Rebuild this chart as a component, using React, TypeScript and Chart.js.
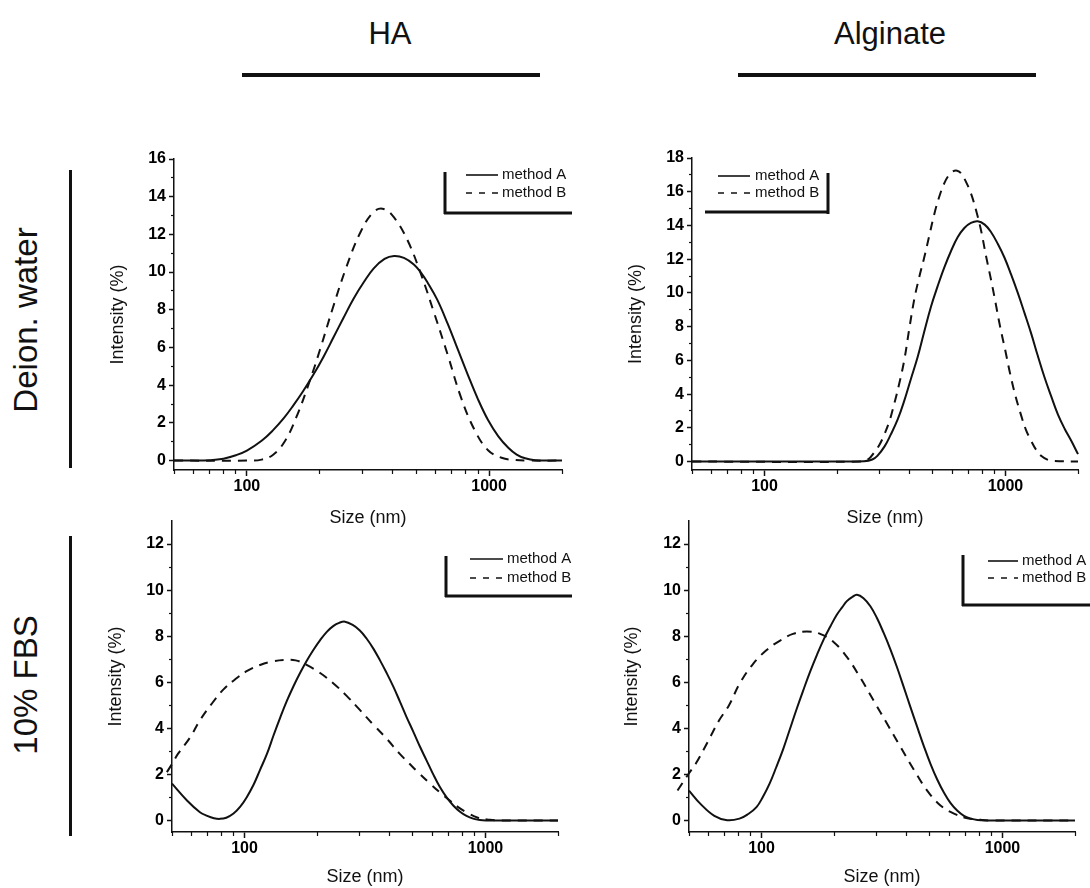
import React, { useEffect, useRef } from "react";
import { Chart, registerables } from "chart.js";

Chart.register(...registerables);

const FONT = "'Liberation Sans', Arial, Helvetica, sans-serif";
Chart.defaults.font.family = FONT;
Chart.defaults.color = "#000";

// ---------------- Data (size in nm, intensity in %) ----------------
// HA, deionized water
const haWaterSizeA = [50, 60, 70, 80, 90, 100, 115, 128, 142, 155, 170, 188, 207, 227, 250, 276, 305, 334, 370, 405, 445, 489, 525, 557, 610, 675, 740, 817, 900, 990, 1090, 1200, 1300, 1409, 1550, 2000];
const haWaterIntA = [0, 0, 0.02, 0.1, 0.28, 0.53, 1.05, 1.6, 2.25, 2.9, 3.65, 4.55, 5.5, 6.5, 7.55, 8.6, 9.5, 10.2, 10.7, 10.85, 10.75, 10.4, 9.95, 9.45, 8.55, 7.25, 5.95, 4.55, 3.25, 2.15, 1.3, 0.68, 0.32, 0.12, 0.02, 0];
const haWaterSizeB = [50, 100, 115, 128, 143, 160, 182, 200, 227, 258, 294, 334, 367, 405, 460, 523, 594, 675, 768, 873, 990, 1126, 1280, 1450, 2000];
const haWaterIntB = [0, 0, 0.05, 0.3, 1.0, 2.3, 4.25, 5.85, 8.15, 10.3, 12.1, 13.2, 13.35, 12.9, 11.7, 9.9, 7.8, 5.6, 3.3, 1.6, 0.55, 0.15, 0.03, 0, 0];

// Alginate, deionized water
const algWaterSizeA = [50, 200, 259, 280, 294, 315, 334, 357, 380, 405, 432, 460, 491, 523, 557, 595, 633, 675, 719, 767, 820, 872, 930, 990, 1055, 1125, 1200, 1278, 1360, 1452, 1550, 1650, 1760, 1875, 2000];
const algWaterIntA = [0, 0, 0.02, 0.12, 0.34, 0.9, 1.6, 2.5, 3.6, 4.9, 6.2, 7.7, 9.2, 10.4, 11.5, 12.5, 13.3, 13.85, 14.15, 14.25, 14.05, 13.6, 12.9, 12.1, 11.1, 10.0, 8.8, 7.6, 6.3, 5.0, 3.85, 2.8, 1.95, 1.23, 0.44];
const algWaterSizeB = [50, 250, 270, 285, 300, 314, 330, 345, 362, 380, 398, 418, 438, 460, 483, 507, 531, 557, 580, 604, 630, 654, 685, 719, 755, 792, 830, 872, 910, 950, 998, 1046, 1100, 1158, 1215, 1278, 1340, 1405, 1500, 1599, 2000];
const algWaterIntB = [0, 0, 0.15, 0.54, 1.0, 1.6, 2.4, 3.4, 4.6, 6.0, 7.8, 9.6, 10.9, 12.1, 13.4, 14.7, 15.7, 16.5, 16.95, 17.2, 17.25, 17.1, 16.6, 15.9, 14.9, 13.7, 12.2, 10.75, 9.4, 8.0, 6.6, 5.2, 3.9, 2.8, 1.9, 1.23, 0.7, 0.34, 0.1, 0.04, 0];

// HA, 10% FBS
const haFbsSizeA = [50, 57.7, 65.3, 70, 74.7, 79, 84, 90, 96, 102, 109, 116, 124, 132, 141, 150, 160, 170, 181, 193, 206, 220, 234, 247, 261, 280, 301, 321, 343, 365, 389, 415, 442, 470, 502, 535, 570, 607, 647, 690, 735, 784, 834, 889, 948, 1010, 1100, 2000];
const haFbsIntA = [1.6, 0.87, 0.36, 0.2, 0.1, 0.07, 0.12, 0.3, 0.6, 1.0, 1.55, 2.2, 2.9, 3.7, 4.5, 5.2, 5.85, 6.4, 6.92, 7.4, 7.83, 8.2, 8.45, 8.58, 8.63, 8.5, 8.25, 7.9, 7.45, 6.95, 6.4, 5.8, 5.15, 4.5, 3.85, 3.2, 2.6, 2.0, 1.45, 1.0, 0.65, 0.38, 0.2, 0.08, 0.02, 0, 0, 0];
const haFbsSizeB = [47.6, 50, 53, 59.4, 65.3, 73.5, 82, 92, 103, 116, 130, 146, 163, 181, 206, 234, 266, 301, 343, 389, 440, 483, 530, 589, 650, 711, 770, 834, 930, 1043, 1150, 2000];
const haFbsIntB = [2.1, 2.45, 2.9, 3.6, 4.35, 5.1, 5.7, 6.15, 6.5, 6.75, 6.9, 6.97, 6.95, 6.75, 6.4, 5.95, 5.4, 4.8, 4.15, 3.55, 2.9, 2.47, 2.05, 1.6, 1.2, 0.87, 0.58, 0.36, 0.12, 0.03, 0, 0];

// Alginate, 10% FBS
const algFbsSizeA = [50, 55.8, 63.7, 72, 81, 88, 95.3, 101, 108, 115, 123, 131, 140, 149, 159, 170, 181, 193, 205, 216, 226, 238, 249, 265, 283, 301, 321, 342, 365, 389, 415, 443, 472, 503, 536, 572, 609, 650, 692, 740, 787, 850, 2000];
const algFbsIntA = [1.3, 0.72, 0.2, 0.01, 0.08, 0.28, 0.58, 1.0, 1.6, 2.3, 3.1, 3.95, 4.85, 5.65, 6.45, 7.2, 7.85, 8.42, 8.92, 9.25, 9.52, 9.7, 9.8, 9.65, 9.3, 8.8, 8.15, 7.45, 6.65, 5.8, 4.92, 4.05, 3.22, 2.45, 1.78, 1.2, 0.75, 0.42, 0.2, 0.08, 0.02, 0, 0];
const algFbsSizeB = [44.8, 50, 53.3, 59.7, 66.7, 73.3, 81.2, 92.3, 105, 119, 135, 154, 175, 199, 226, 257, 292, 332, 377, 429, 487, 553, 629, 715, 812, 900, 2000];
const algFbsIntB = [1.3, 2.05, 2.46, 3.4, 4.35, 5.0, 5.95, 6.8, 7.4, 7.8, 8.1, 8.2, 8.1, 7.75, 7.1, 6.2, 5.2, 4.2, 3.2, 2.2, 1.3, 0.65, 0.3, 0.1, 0.03, 0, 0];

// ---------------- Axes / labels ----------------
const xMin = 50;
const xMax = 2000;
const yMin = -0.5;
const xMajorTicks = [100, 1000];
const xMinorTicks = [50, 60, 70, 80, 90, 200, 300, 400, 500, 600, 700, 800, 900, 2000];
const yMajorHaWater = [0, 2, 4, 6, 8, 10, 12, 14, 16];
const yMinorHaWater = [1, 3, 5, 7, 9, 11, 13, 15];
const yMajorAlgWater = [0, 2, 4, 6, 8, 10, 12, 14, 16, 18];
const yMinorAlgWater = [1, 3, 5, 7, 9, 11, 13, 15, 17];
const yMajorFbs = [0, 2, 4, 6, 8, 10, 12];
const yMinorFbs = [1, 3, 5, 7, 9, 11];
const yMaxHaWater = 16;
const yMaxAlgWater = 18;
const yMaxFbs = 13;

const seriesLabels = ["method A", "method B"];
const columnTitles = ["HA", "Alginate"];
const rowTitles = ["Deion. water", "10% FBS"];
const xAxisTitle = "Size (nm)";
const yAxisTitle = "Intensity (%)";

const zip = (xs: number[], ys: number[]) => xs.map((x, i) => ({ x, y: ys[i] }));

type LegendGeom = {
  vx: number; vy0: number; vy1: number;
  hy: number; hx0: number; hx1: number;
  sx0: number; sx1: number; tx: number; rows: number[];
};

type PanelDef = {
  cx: number; cy: number; cw: number; ch: number;
  padTop: number; padRight: number; wy: number; hx: number;
  xTitlePad: number; yTitlePad: number;
  yMax: number; yMajor: number[]; yMinor: number[];
  sizeA: number[]; intA: number[]; sizeB: number[]; intB: number[];
  legend: LegendGeom;
};

const panels: PanelDef[] = [
  {
    cx: 90, cy: 140, cw: 490, ch: 400, padTop: 19, padRight: 18, wy: 84, hx: 70,
    xTitlePad: 11, yTitlePad: 17,
    yMax: yMaxHaWater, yMajor: yMajorHaWater, yMinor: yMinorHaWater,
    sizeA: haWaterSizeA, intA: haWaterIntA, sizeB: haWaterSizeB, intB: haWaterIntB,
    legend: { vx: 445, vy0: 172, vy1: 214, hy: 213, hx0: 444, hx1: 572, sx0: 466, sx1: 498, tx: 502, rows: [175, 193] },
  },
  {
    cx: 600, cy: 140, cw: 490, ch: 400, padTop: 18, padRight: 12, wy: 92, hx: 70,
    xTitlePad: 11, yTitlePad: 25,
    yMax: yMaxAlgWater, yMajor: yMajorAlgWater, yMinor: yMinorAlgWater,
    sizeA: algWaterSizeA, intA: algWaterIntA, sizeB: algWaterSizeB, intB: algWaterIntB,
    legend: { vx: 828, vy0: 173, vy1: 214, hy: 212, hx0: 705, hx1: 829, sx0: 718, sx1: 750, tx: 755, rows: [176, 193] },
  },
  {
    cx: 90, cy: 500, cw: 490, ch: 388, padTop: 21, padRight: 22, wy: 82, hx: 56,
    xTitlePad: 0, yTitlePad: 15,
    yMax: yMaxFbs, yMajor: yMajorFbs, yMinor: yMinorFbs,
    sizeA: haFbsSizeA, intA: haFbsIntA, sizeB: haFbsSizeB, intB: haFbsIntB,
    legend: { vx: 446, vy0: 556, vy1: 597, hy: 596, hx0: 445, hx1: 572, sx0: 470, sx1: 503, tx: 507, rows: [559, 578] },
  },
  {
    cx: 600, cy: 500, cw: 490, ch: 388, padTop: 21, padRight: 15, wy: 89, hx: 56,
    xTitlePad: 0, yTitlePad: 21,
    yMax: yMaxFbs, yMajor: yMajorFbs, yMinor: yMinorFbs,
    sizeA: algFbsSizeA, intA: algFbsIntA, sizeB: algFbsSizeB, intB: algFbsIntB,
    legend: { vx: 963, vy0: 555, vy1: 606, hy: 605, hx0: 962, hx1: 1090, sx0: 988, sx1: 1018, tx: 1022, rows: [561, 578] },
  },
];

const INK = "#111";

function Panel({ p }: { p: PanelDef }) {
  const ref = useRef<HTMLCanvasElement | null>(null);
  useEffect(() => {
    const canvas = ref.current;
    if (!canvas) return;
    const L = p.legend;
    const legendPlugin = {
      id: "bracketLegend",
      afterDraw(chart: any) {
        const ctx = chart.ctx as CanvasRenderingContext2D;
        const ox = p.cx;
        const oy = p.cy;
        ctx.save();
        ctx.strokeStyle = INK;
        ctx.lineWidth = 3;
        ctx.setLineDash([]);
        ctx.beginPath();
        ctx.moveTo(L.vx - ox, L.vy0 - oy);
        ctx.lineTo(L.vx - ox, L.vy1 - oy);
        ctx.moveTo(L.hx0 - ox, L.hy - oy);
        ctx.lineTo(L.hx1 - ox, L.hy - oy);
        ctx.stroke();
        chart.data.datasets.forEach((ds: any, i: number) => {
          const y = L.rows[i] - oy;
          ctx.lineWidth = 1.6;
          ctx.setLineDash(i === 1 ? [6, 7] : []);
          ctx.beginPath();
          ctx.moveTo(L.sx0 - ox, y);
          ctx.lineTo(L.sx1 - ox, y);
          ctx.stroke();
          ctx.setLineDash([]);
          ctx.fillStyle = INK;
          ctx.font = `15px ${FONT}`;
          ctx.textBaseline = "middle";
          ctx.textAlign = "left";
          ctx.fillText(ds.label, L.tx - ox, y);
        });
        ctx.restore();
      },
    };

    const tickFont = { size: 16, weight: "bold" as const, family: FONT };
    const chart = new Chart(canvas, {
      type: "line",
      data: {
        datasets: [
          {
            label: seriesLabels[0],
            data: zip(p.sizeA, p.intA),
            borderColor: INK,
            borderWidth: 2,
            pointRadius: 0,
            fill: false,
            tension: 0.4,
            clip: false as any,
          },
          {
            label: seriesLabels[1],
            data: zip(p.sizeB, p.intB),
            borderColor: INK,
            borderWidth: 2,
            borderDash: [9, 7],
            pointRadius: 0,
            fill: false,
            tension: 0.4,
            clip: false as any,
          },
        ],
      },
      options: {
        responsive: false,
        maintainAspectRatio: false,
        animation: false,
        events: [],
        layout: { padding: { left: 0, top: p.padTop, right: p.padRight, bottom: 0 } },
        plugins: { legend: { display: false }, tooltip: { enabled: false } },
        scales: {
          x: {
            type: "logarithmic",
            axis: "x",
            position: "bottom",
            weight: 1,
            min: xMin,
            max: xMax,
            afterBuildTicks: (s: any) => {
              s.ticks = xMajorTicks.map((v) => ({ value: v, major: true }));
            },
            afterFit: (s: any) => {
              s.height = p.hx;
            },
            ticks: {
              callback: (v: any) => String(v),
              font: tickFont,
              color: "#000",
              autoSkip: false,
              maxRotation: 0,
              padding: 1,
            },
            grid: { drawOnChartArea: false, drawTicks: true, tickLength: 6, tickWidth: 1.5, tickColor: INK },
            border: { display: true, color: INK, width: 1.5 },
            title: {
              display: true,
              text: xAxisTitle,
              color: "#111",
              font: { size: 18, family: FONT },
              padding: { top: 0, bottom: p.xTitlePad },
            },
          },
          xMinor: {
            type: "logarithmic",
            axis: "x",
            position: "bottom",
            weight: 0,
            min: xMin,
            max: xMax,
            afterBuildTicks: (s: any) => {
              s.ticks = xMinorTicks.map((v) => ({ value: v }));
            },
            afterFit: (s: any) => {
              s.height = 0;
            },
            ticks: { callback: () => "", autoSkip: false, maxRotation: 0, padding: 0 },
            grid: { drawOnChartArea: false, drawTicks: true, tickLength: 4, tickWidth: 1.2, tickColor: INK },
            border: { display: false },
          },
          y: {
            type: "linear",
            axis: "y",
            position: "left",
            weight: 1,
            min: yMin,
            max: p.yMax,
            afterBuildTicks: (s: any) => {
              s.ticks = p.yMajor.map((v) => ({ value: v }));
            },
            afterFit: (s: any) => {
              s.width = p.wy;
            },
            ticks: { callback: (v: any) => String(v), font: tickFont, color: "#000", autoSkip: false, padding: 3 },
            grid: { drawOnChartArea: false, drawTicks: true, tickLength: 5, tickWidth: 1.5, tickColor: INK },
            border: { display: true, color: INK, width: 1.5 },
            title: {
              display: true,
              text: yAxisTitle,
              color: "#111",
              font: { size: 18, family: FONT },
              padding: { top: p.yTitlePad, bottom: 0 },
            },
          },
          yMinor: {
            type: "linear",
            axis: "y",
            position: "left",
            weight: 0,
            min: yMin,
            max: p.yMax,
            afterBuildTicks: (s: any) => {
              s.ticks = p.yMinor.map((v) => ({ value: v }));
            },
            afterFit: (s: any) => {
              s.width = 0;
            },
            ticks: { callback: () => "", autoSkip: false, padding: 0 },
            grid: { drawOnChartArea: false, drawTicks: true, tickLength: 3, tickWidth: 1.2, tickColor: INK },
            border: { display: false },
          },
        },
      } as any,
      plugins: [legendPlugin],
    });
    return () => chart.destroy();
  }, [p]);

  return (
    <canvas
      ref={ref}
      width={p.cw}
      height={p.ch}
      style={{ position: "absolute", left: p.cx, top: p.cy, width: p.cw, height: p.ch }}
    />
  );
}

const bigText: React.CSSProperties = {
  position: "absolute",
  fontFamily: FONT,
  color: "#111",
  whiteSpace: "nowrap",
  lineHeight: 1,
};

export default function App() {
  return (
    <div
      style={{
        position: "absolute",
        left: 0,
        top: 0,
        width: 1090,
        height: 888,
        background: "#fff",
        overflow: "hidden",
      }}
    >
      {/* column titles */}
      <div style={{ ...bigText, fontSize: 31, left: 390, top: 33, transform: "translate(-50%, -50%)" }}>{columnTitles[0]}</div>
      <div style={{ ...bigText, fontSize: 31, left: 890, top: 33, transform: "translate(-50%, -50%)" }}>{columnTitles[1]}</div>
      <div style={{ position: "absolute", left: 242, top: 73, width: 298, height: 4, background: INK }} />
      <div style={{ position: "absolute", left: 738, top: 73, width: 298, height: 4, background: INK }} />
      {/* row titles */}
      <div style={{ ...bigText, fontSize: 33, left: 25, top: 320, transform: "translate(-50%, -50%) rotate(-90deg)" }}>{rowTitles[0]}</div>
      <div style={{ ...bigText, fontSize: 33, left: 25, top: 685, transform: "translate(-50%, -50%) rotate(-90deg)" }}>{rowTitles[1]}</div>
      <div style={{ position: "absolute", left: 69, top: 170, width: 3, height: 298, background: INK }} />
      <div style={{ position: "absolute", left: 69, top: 536, width: 3, height: 300, background: INK }} />
      {panels.map((p, i) => (
        <Panel key={i} p={p} />
      ))}
    </div>
  );
}
